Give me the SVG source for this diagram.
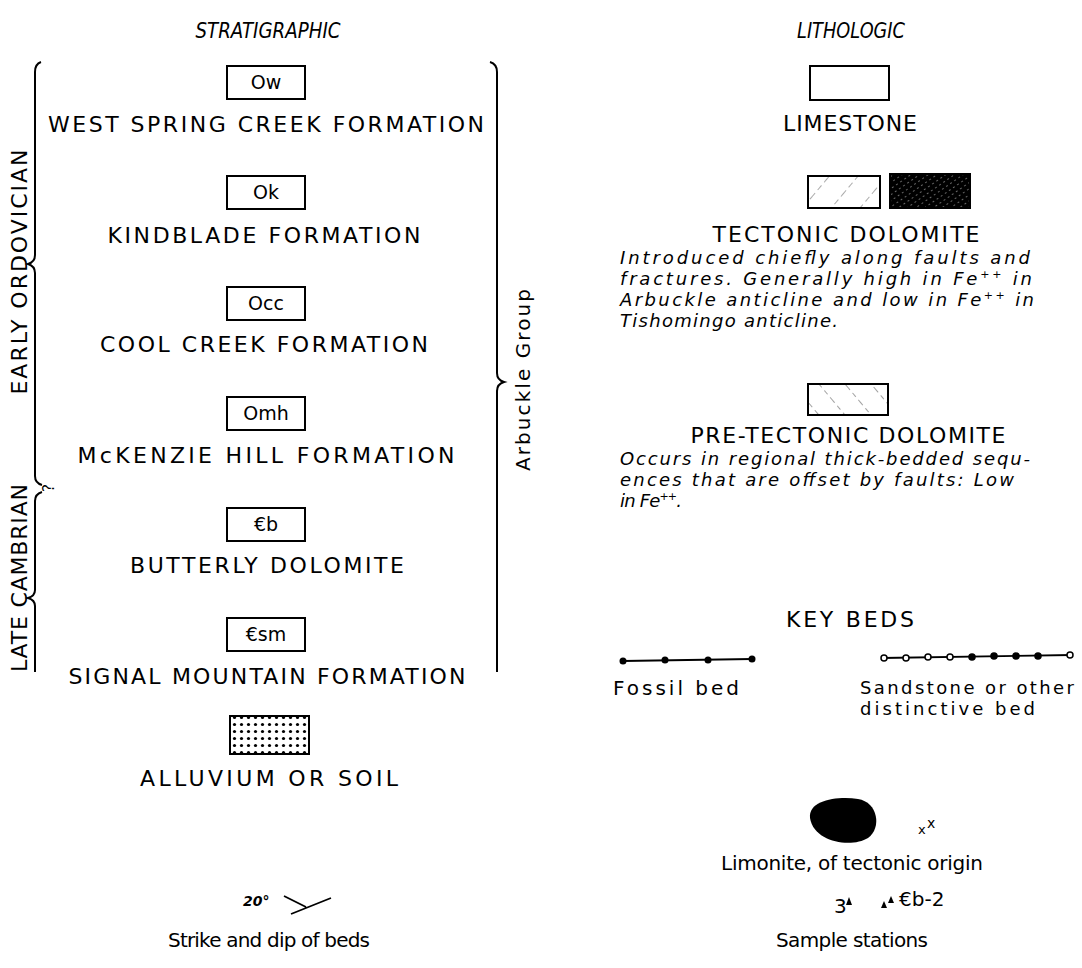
<svg xmlns="http://www.w3.org/2000/svg" width="1082" height="968" viewBox="0 0 1082 968">
  <style>
    text { font-family: "DejaVu Sans", "Liberation Sans", sans-serif; fill: #000; }
    .cap { font-size: 22px; text-anchor: middle; }
    .head { font-size: 21px; font-style: italic; text-anchor: middle; }
    .note { font-size: 18px; font-style: italic; }
    .lbl { font-size: 20px; }
    .lbl2 { font-size: 18px; }
    .sym { font-size: 19px; text-anchor: middle; }
    .box { fill: #fff; stroke: #000; stroke-width: 2; }
    .brace { fill: none; stroke: #000; stroke-width: 2; }
    .bed { fill: none; stroke: #000; stroke-width: 1.8; }
  </style>
  <defs>
    <pattern id="hatchLight" width="22" height="22" patternUnits="userSpaceOnUse" patternTransform="rotate(40)">
      <line x1="0" y1="0" x2="0" y2="22" stroke="#555" stroke-width="1" stroke-dasharray="6 4"/>
    </pattern>
    <pattern id="hatchDark" width="5" height="5" patternUnits="userSpaceOnUse" patternTransform="rotate(55)">
      <rect width="5" height="5" fill="#000"/>
      <line x1="0" y1="0" x2="0" y2="5" stroke="#fff" stroke-width="0.8" stroke-dasharray="2 3"/>
    </pattern>
    <pattern id="hatchPre" width="20" height="20" patternUnits="userSpaceOnUse" patternTransform="rotate(-40)">
      <line x1="0" y1="0" x2="0" y2="20" stroke="#444" stroke-width="1" stroke-dasharray="5 4"/>
    </pattern>
    <pattern id="dots" width="7" height="7" patternUnits="userSpaceOnUse">
      <circle cx="3.5" cy="3.5" r="1.6" fill="#000"/>
    </pattern>
  </defs>

  <!-- column headings -->
  <text class="head" x="268" y="38" textLength="145" lengthAdjust="spacingAndGlyphs">STRATIGRAPHIC</text>
  <text class="head" x="851" y="38" textLength="108" lengthAdjust="spacingAndGlyphs">LITHOLOGIC</text>

  <!-- age and group braces -->
  <g id="braces">
    <path class="brace" d="M41,62 Q35,64 35,72 L35,255 Q35,262 28,264 Q35,266 35,273 L35,476 Q35,483 42,485"/>
    <path class="brace" d="M42,492 Q35,494 35,501 L35,590 Q35,596 28,598 Q35,600 35,606 L35,672"/>
    <path class="brace" d="M490,62 Q497,64 497,72 L497,373 Q497,380 504,382 Q497,384 497,391 L497,672"/>
    <text class="cap" transform="translate(54,488) rotate(-90)" style="font-size:15px">?</text>
    <text class="cap" transform="translate(27,272) rotate(-90)" textLength="245" lengthAdjust="spacing">EARLY ORDOVICIAN</text>
    <text class="cap" transform="translate(27,578) rotate(-90)" textLength="188" lengthAdjust="spacing">LATE CAMBRIAN</text>
    <text class="cap" transform="translate(530,380) rotate(-90)" style="font-size:20px" textLength="182" lengthAdjust="spacing">Arbuckle Group</text>
  </g>

  <!-- stratigraphic units -->
  <g id="unit-ow">
    <rect class="box" x="227" y="66" width="78" height="33"/>
    <text class="sym" x="266" y="89">Ow</text>
    <text class="cap" x="266" y="132" textLength="436" lengthAdjust="spacing">WEST SPRING CREEK FORMATION</text>
  </g>
  <g id="unit-ok">
    <rect class="box" x="227" y="176" width="78" height="33"/>
    <text class="sym" x="266" y="199">Ok</text>
    <text class="cap" x="264" y="243" textLength="313" lengthAdjust="spacing">KINDBLADE FORMATION</text>
  </g>
  <g id="unit-occ">
    <rect class="box" x="227" y="287" width="78" height="33"/>
    <text class="sym" x="266" y="310">Occ</text>
    <text class="cap" x="264" y="352" textLength="328" lengthAdjust="spacing">COOL CREEK FORMATION</text>
  </g>
  <g id="unit-omh">
    <rect class="box" x="227" y="397" width="78" height="33"/>
    <text class="sym" x="266" y="420">Omh</text>
    <text class="cap" x="266" y="463" textLength="377" lengthAdjust="spacing">McKENZIE HILL FORMATION</text>
  </g>
  <g id="unit-cb">
    <rect class="box" x="227" y="508" width="78" height="33"/>
    <text class="sym" x="266" y="531">€b</text>
    <text class="cap" x="267" y="573" textLength="274" lengthAdjust="spacing">BUTTERLY DOLOMITE</text>
  </g>
  <g id="unit-csm">
    <rect class="box" x="227" y="618" width="78" height="33"/>
    <text class="sym" x="266" y="641">€sm</text>
    <text class="cap" x="267" y="684" textLength="397" lengthAdjust="spacing">SIGNAL MOUNTAIN FORMATION</text>
  </g>
  <g id="unit-alluvium">
    <rect class="box" x="230" y="716" width="79" height="38" style="fill:url(#dots)"/>
    <text class="cap" x="269" y="786" textLength="258" lengthAdjust="spacing">ALLUVIUM OR SOIL</text>
  </g>

  <!-- strike and dip -->
  <g id="strike-dip">
    <text x="243" y="906" style="font-size:14px;font-style:italic;font-weight:bold">20°</text>
    <path class="bed" d="M291,914 L331,898 M284,896 L306,907"/>
    <text class="lbl" x="269" y="947" text-anchor="middle" textLength="202" lengthAdjust="spacing">Strike and dip of beds</text>
  </g>

  <!-- lithologic units -->
  <g id="limestone">
    <rect class="box" x="810" y="66" width="79" height="34"/>
    <text class="cap" x="850" y="131" textLength="134" lengthAdjust="spacing">LIMESTONE</text>
  </g>
  <g id="tectonic-dolomite">
    <rect class="box" x="808" y="176" width="72" height="32" style="fill:url(#hatchLight)"/>
    <rect class="box" x="890" y="174" width="80" height="34" style="fill:url(#hatchDark)"/>
    <text class="cap" x="846" y="242" textLength="267" lengthAdjust="spacing">TECTONIC DOLOMITE</text>
    <text class="note" x="620" y="264" textLength="410" lengthAdjust="spacing">Introduced chiefly along faults and</text>
    <text class="note" x="620" y="285" textLength="412" lengthAdjust="spacing">fractures. Generally high in Fe<tspan dy="-7" style="font-size:11px">++</tspan><tspan dy="7"> in</tspan></text>
    <text class="note" x="620" y="306" textLength="414" lengthAdjust="spacing">Arbuckle anticline and low in Fe<tspan dy="-7" style="font-size:11px">++</tspan><tspan dy="7"> in</tspan></text>
    <text class="note" x="620" y="327" textLength="218" lengthAdjust="spacing">Tishomingo anticline.</text>
  </g>
  <g id="pre-tectonic-dolomite">
    <rect class="box" x="808" y="384" width="80" height="31" style="fill:url(#hatchPre)"/>
    <text class="cap" x="848" y="443" textLength="315" lengthAdjust="spacing">PRE-TECTONIC DOLOMITE</text>
    <text class="note" x="620" y="465" textLength="410" lengthAdjust="spacing">Occurs in regional thick-bedded sequ-</text>
    <text class="note" x="620" y="486" textLength="394" lengthAdjust="spacing">ences that are offset by faults: Low</text>
    <text class="note" x="620" y="507" textLength="62" lengthAdjust="spacing">in Fe<tspan dy="-7" style="font-size:11px">++</tspan><tspan dy="7">.</tspan></text>
  </g>

  <!-- key beds -->
  <g id="key-beds">
    <text class="cap" x="850" y="627" textLength="128" lengthAdjust="spacing">KEY BEDS</text>
  </g>
  <g id="fossil-bed">
    <path class="bed" d="M623,661 L752,659"/>
    <circle cx="623" cy="661" r="3.5"/>
    <circle cx="665" cy="660" r="3.5"/>
    <circle cx="708" cy="660" r="3.5"/>
    <circle cx="752" cy="659" r="3.5"/>
    <text class="lbl" x="613" y="695" textLength="126" lengthAdjust="spacing">Fossil bed</text>
  </g>
  <g id="sandstone-bed">
    <path class="bed" d="M882,658 L1072,655"/>
    <g fill="#000" stroke="#000" stroke-width="1.5">
      <circle cx="884" cy="658" r="3" fill="#fff"/>
      <circle cx="906" cy="658" r="3" fill="#fff"/>
      <circle cx="928" cy="657" r="3" fill="#fff"/>
      <circle cx="950" cy="657" r="3" fill="#fff"/>
      <circle cx="972" cy="657" r="3"/>
      <circle cx="994" cy="656" r="3"/>
      <circle cx="1016" cy="656" r="3"/>
      <circle cx="1038" cy="656" r="3"/>
      <circle cx="1070" cy="655" r="3" fill="#fff"/>
    </g>
    <text class="lbl2" x="860" y="694" textLength="214" lengthAdjust="spacing">Sandstone or other</text>
    <text class="lbl2" x="860" y="715" textLength="175" lengthAdjust="spacing">distinctive bed</text>
  </g>

  <!-- limonite -->
  <g id="limonite">
    <path d="M810,818 C808,800 838,796 858,799 C878,802 882,828 868,838 C852,848 814,843 810,818 Z" fill="#000"/>
    <text x="918" y="834" style="font-size:13px">x</text>
    <text x="927" y="828" style="font-size:14px">x</text>
    <text class="lbl" x="852" y="870" text-anchor="middle" textLength="262" lengthAdjust="spacing">Limonite, of tectonic origin</text>
  </g>

  <!-- sample stations -->
  <g id="sample-stations">
    <text class="lbl" x="834" y="913">3</text>
    <path d="M846,905 L849,897 L852,905 Z" fill="#000"/>
    <path d="M881,908 L884,901 L887,908 Z" fill="#000"/>
    <path d="M888,903 L891,896 L894,903 Z" fill="#000"/>
    <text class="lbl" x="899" y="906">€b-2</text>
    <text class="lbl" x="852" y="947" text-anchor="middle" textLength="152" lengthAdjust="spacing">Sample stations</text>
  </g>
</svg>
